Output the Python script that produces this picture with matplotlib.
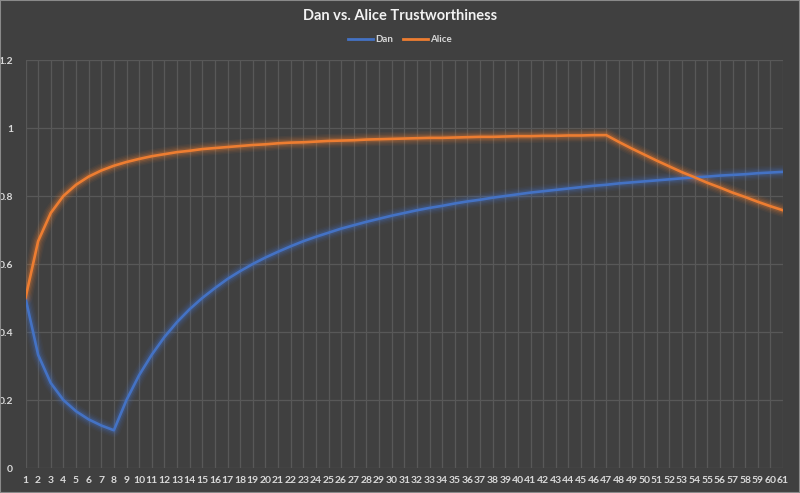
import matplotlib
matplotlib.use("Agg")
import matplotlib.pyplot as plt
from matplotlib.lines import Line2D

steps = list(range(1, 62))
dan = [0.5, 0.333, 0.25, 0.2, 0.167, 0.143, 0.125, 0.111, 0.2, 0.273,
       0.333, 0.385, 0.429, 0.467, 0.5, 0.529, 0.556, 0.579, 0.6, 0.619,
       0.636, 0.652, 0.667, 0.68, 0.692, 0.704, 0.714, 0.724, 0.733, 0.742,
       0.75, 0.758, 0.765, 0.771, 0.778, 0.784, 0.789, 0.795, 0.8, 0.805,
       0.81, 0.814, 0.818, 0.822, 0.826, 0.83, 0.833, 0.837, 0.84, 0.843,
       0.846, 0.849, 0.852, 0.855, 0.857, 0.86, 0.862, 0.864, 0.867, 0.869,
       0.871]
alice = [0.5, 0.667, 0.75, 0.8, 0.833, 0.857, 0.875, 0.889, 0.9, 0.909,
         0.917, 0.923, 0.929, 0.933, 0.938, 0.941, 0.944, 0.947, 0.95, 0.952,
         0.955, 0.957, 0.958, 0.96, 0.962, 0.963, 0.964, 0.966, 0.967, 0.968,
         0.969, 0.97, 0.971, 0.971, 0.972, 0.973, 0.974, 0.974, 0.975, 0.976,
         0.976, 0.977, 0.977, 0.978, 0.978, 0.979, 0.979, 0.959, 0.94, 0.922,
         0.904, 0.887, 0.87, 0.855, 0.839, 0.825, 0.81, 0.797, 0.783, 0.77,
         0.758]
yticks = [0, 0.2, 0.4, 0.6, 0.8, 1, 1.2]
ytick_labels = ["0", "0.2", "0.4", "0.6", "0.8", "1", "1.2"]
title = "Dan vs. Alice Trustworthiness"
series_names = ["Dan", "Alice"]

BG = "#404040"
GRID = "#585858"
TXT = "#d9d9d9"
BLUE = "#4472c4"
ORANGE = "#ed7d31"
FONT = ["Lato", "DejaVu Sans"]

fig = plt.figure(figsize=(8, 4.93), dpi=100, facecolor=BG)
ax = fig.add_axes([25.5 / 800, 1 - 468 / 493, (783 - 25.5) / 800, (468 - 60) / 493])
ax.set_facecolor(BG)

for vals, col in [(dan, BLUE), (alice, ORANGE)]:
    for lw, a in [(10, 0.06), (8, 0.08), (6, 0.12), (4, 0.2)]:
        ax.plot(steps, vals, color=col, lw=lw, alpha=a, solid_capstyle="round",
                solid_joinstyle="round", zorder=2)
for vals, col in [(dan, BLUE), (alice, ORANGE)]:
    ax.plot(steps, vals, color=col, lw=1.9, solid_joinstyle="round", zorder=3)

ax.set_xlim(1, 61)
ax.set_ylim(0, 1.2)
ax.set_xticks(steps)
ax.set_xticklabels([str(s) for s in steps], fontsize=7.5, color=TXT,
                   fontweight="bold", family=FONT)
ax.set_yticks(yticks)
ax.set_yticklabels(ytick_labels, fontsize=7.5, color=TXT, fontweight="bold", family=FONT)
ax.tick_params(axis="y", length=0, pad=9)
ax.tick_params(axis="x", length=0, pad=6)
ax.grid(True, color=GRID, lw=0.9)
ax.set_axisbelow(True)
for s in ax.spines.values():
    s.set_visible(False)

fig.text(0.5, 1 - 16 / 493, title, ha="center", va="center", fontsize=10.5,
         fontweight="bold", color="#f2f2f2", family=FONT)
handles = [Line2D([0], [0], color=BLUE, lw=2), Line2D([0], [0], color=ORANGE, lw=2)]
leg = fig.legend(handles, series_names, loc="center", bbox_to_anchor=(0.5, 1 - 40 / 493),
                 ncol=2, frameon=False, handlelength=2.6, handletextpad=0.2,
                 columnspacing=1.0, prop={"family": FONT, "weight": "bold", "size": 7})
for t in leg.get_texts():
    t.set_color(TXT)

fig.patches.append(plt.Rectangle((0, 0), 1, 1, transform=fig.transFigure, fill=False,
                                 edgecolor="#8a8a8a", lw=1.5))
fig.savefig("out.png", dpi=100, facecolor=BG)
